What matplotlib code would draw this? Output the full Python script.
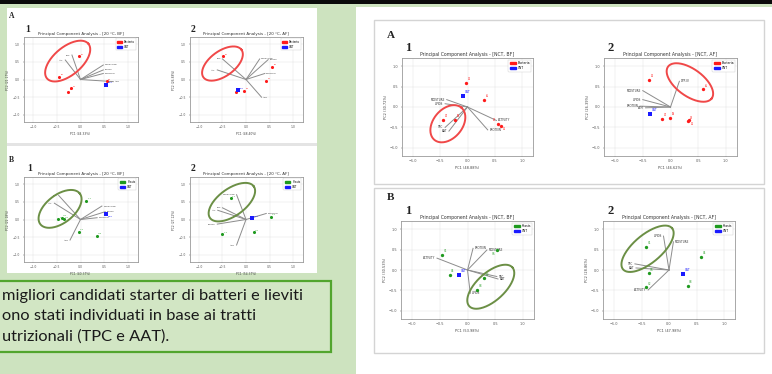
import matplotlib
matplotlib.use("Agg")
import numpy as np
import matplotlib.pyplot as plt
from matplotlib.patches import Rectangle, Patch

W, H = 772, 374

# ---------------- data ----------------
# Left column, 20 °C
l_a1_title = "Principal Component Analysis - [20 °C, BF]"
l_a1_xlab, l_a1_ylab = "PC1 (44.33%)", "PC2 (21.17%)"
l_a1_px = [-0.03, -0.45, -0.20, -0.26, 0.55]
l_a1_py = [0.66, 0.08, -0.25, -0.34, -0.04]
l_a1_pl = ["L2", "L5", "L7", "L9", "L3"]
l_a1_cnt = [0.54, -0.15]
l_a1_vx = [-0.18, -0.32, 0.48, 0.48, 0.48, 0.69]
l_a1_vy = [0.69, 0.55, 0.41, 0.27, 0.17, -0.06]
l_a1_vl = ["TPC", "AAT", "MOISTURE", "LIPIDS", "PROTEIN", "ASH"]
l_a1_ell = [-0.27, 0.52, 54, 28, 40]   # centre (data), major/minor (px), angle

l_a2_title = "Principal Component Analysis - [20 °C, AF]"
l_a2_xlab, l_a2_ylab = "PC1 (48.40%)", "PC2 (26.88%)"
l_a2_px = [-0.48, 0.55, 0.43, -0.21, -0.04]
l_a2_py = [0.66, 0.36, -0.03, -0.36, -0.32]
l_a2_pl = ["L2", "L5", "L7", "L9", "L3"]
l_a2_cnt = [-0.18, -0.30]
l_a2_vx = [-0.50, -0.61, 0.29, 0.47, 0.40, 0.33]
l_a2_vy = [0.58, 0.27, 0.58, 0.56, 0.17, -0.50]
l_a2_vl = ["TPC", "AAT", "MOISTURE", "LIPIDS", "PROTEIN", "ASH"]
l_a2_ell = [-0.50, 0.45, 47, 25, 36]

l_b1_title = "Principal Component Analysis - [20 °C, BF]"
l_b1_xlab, l_b1_ylab = "PC1 (40.37%)", "PC2 (22.18%)"
l_b1_px = [0.12, -0.47, -0.35, -0.03, 0.34, -0.40]
l_b1_py = [0.53, 0.01, 0.01, -0.34, -0.46, 0.05]
l_b1_pl = ["Y1", "Y4", "Y6", "Y2", "Y8", "Y5"]
l_b1_cnt = [0.54, 0.15]
l_b1_vx = [-0.46, -0.55, 0.45, 0.52, 0.35, -0.22]
l_b1_vy = [0.68, 0.46, 0.38, 0.22, 0.05, -0.58]
l_b1_vl = ["TPC", "AAT", "MOISTURE", "LIPIDS", "PROTEIN", "ASH"]
l_b1_ell = [-0.43, 0.30, 50, 28, 38]

l_b2_title = "Principal Component Analysis - [20 °C, AF]"
l_b2_xlab, l_b2_ylab = "PC1 (54.37%)", "PC2 (27.12%)"
l_b2_px = [-0.32, -0.50, 0.17, 0.53]
l_b2_py = [0.60, -0.42, -0.36, 0.08]
l_b2_pl = ["Y1", "Y4", "Y6", "Y2"]
l_b2_cnt = [0.13, 0.03]
l_b2_vx = [-0.20, -0.50, -0.60, -0.61, 0.43, -0.20]
l_b2_vy = [0.70, 0.33, 0.26, -0.13, 0.17, -0.72]
l_b2_vl = ["MOISTURE", "TPC", "AAT", "LIPIDS", "PROTEIN", "ASH"]
l_b2_ell = [-0.30, 0.49, 54, 27, 36]

# Right column, NCT
r_a1_title = "Principal Component Analysis - [NCT, BF]"
r_a1_xlab, r_a1_ylab = "PC1 (48.88%)", "PC2 (30.72%)"
r_a1_px = [-0.03, 0.30, -0.44, -0.23, 0.55, 0.62]
r_a1_py = [0.60, 0.17, -0.31, -0.31, -0.41, -0.46]
r_a1_pl = ["L2", "L5", "L7", "L9", "L3", "L1"]
r_a1_cnt = [-0.08, 0.27]
r_a1_vx = [-0.38, -0.41, -0.41, -0.34, 0.53, 0.37]
r_a1_vy = [0.18, 0.08, -0.50, -0.59, -0.33, -0.56]
r_a1_vl = ["MOISTURE", "LIPIDS", "TPC", "AAT", "ACTIVITY", "PROTEIN"]
r_a1_ell = [-0.36, -0.41, 42, 29, 50]

r_a2_title = "Principal Component Analysis - [NCT, AF]"
r_a2_xlab, r_a2_ylab = "PC1 (46.62%)", "PC2 (26.39%)"
r_a2_px = [-0.38, 0.59, -0.16, -0.01, 0.31, 0.34]
r_a2_py = [0.67, 0.43, -0.29, -0.27, -0.35, -0.33]
r_a2_pl = ["L2", "L5", "L7", "L9", "L3", "L1"]
r_a2_cnt = [-0.37, -0.17]
r_a2_vx = [0.16, -0.50, -0.50, -0.55, -0.45]
r_a2_vy = [0.63, 0.40, 0.18, 0.02, -0.02]
r_a2_vl = ["DPP-IV", "MOISTURE", "LIPIDS", "PROTEIN", "ASH"]
r_a2_ell = [0.35, 0.60, 54, 27, -36]

r_b1_title = "Principal Component Analysis - [NCT, BF]"
r_b1_xlab, r_b1_ylab = "PC1 (53.98%)", "PC2 (30.53%)"
r_b1_px = [-0.46, -0.32, 0.53, 0.30, 0.17]
r_b1_py = [0.37, -0.12, 0.49, -0.20, -0.49]
r_b1_pl = ["Y1", "Y4", "Y6", "Y2", "Y8"]
r_b1_cnt = [-0.15, -0.12]
r_b1_vx = [-0.55, 0.35, 0.10, 0.53, 0.55, 0.05]
r_b1_vy = [0.29, 0.49, 0.53, -0.16, -0.22, -0.57]
r_b1_vl = ["ACTIVITY", "MOISTURE", "PROTEIN", "TPC", "AAT", "LIPIDS"]
r_b1_ell = [0.42, -0.41, 58, 28, 42]

r_b2_title = "Principal Component Analysis - [NCT, AF]"
r_b2_xlab, r_b2_ylab = "PC1 (47.98%)", "PC2 (28.86%)"
r_b2_px = [-0.42, 0.58, -0.37, -0.42, 0.34]
r_b2_py = [0.57, 0.33, -0.08, -0.42, -0.39]
r_b2_pl = ["Y1", "Y4", "Y6", "Y2", "Y8"]
r_b2_cnt = [0.25, -0.10]
r_b2_vx = [-0.10, 0.08, -0.62, -0.60, -0.38]
r_b2_vy = [0.83, 0.69, 0.15, 0.05, -0.49]
r_b2_vl = ["LIPIDS", "MOISTURE", "TPC", "AAT", "ACTIVITY"]
r_b2_ell = [-0.39, 0.52, 64, 28, 40]

ticks = [-1.0, -0.5, 0.0, 0.5, 1.0]

text_lines = ["migliori candidati starter di batteri e lieviti",
              "ono stati individuati in base ai tratti",
              "utrizionali (TPC e AAT)."]

# ---------------- colours ----------------
BG_GREEN = "#cde3bf"
RED = "#ff1a1a"
BLUE = "#1a1aff"
GREEN = "#1f9a1f"
ELL_RED = "#f04848"
ELL_GREEN = "#6b8f45"

fig = plt.figure(figsize=(W / 100, H / 100), dpi=100)
fig.patch.set_facecolor(BG_GREEN)
renderer = fig.canvas.get_renderer()

bg = fig.add_axes([0, 0, 1, 1])
bg.set_xlim(0, W)
bg.set_ylim(H, 0)
bg.axis("off")
bg.set_zorder(0)

def rect(x0, y0, x1, y1, **kw):
    bg.add_patch(Rectangle((x0, y0), x1 - x0, y1 - y0, **kw))

rect(0, 0, W, 3.5, facecolor="#0a0a0a", edgecolor="none")
rect(7, 8, 317, 142.5, facecolor="white", edgecolor="none")
rect(7, 142.5, 317, 146, facecolor="#e4e4e4", edgecolor="none")
rect(7, 146, 317, 273, facecolor="white", edgecolor="none")
rect(356, 7, W, H, facecolor="white", edgecolor="none")
rect(373.5, 20, 764, 184, facecolor="none", edgecolor="#d4d4d4", linewidth=1.0)
rect(374, 188, 763.5, 353, facecolor="none", edgecolor="#d4d4d4", linewidth=1.0)
rect(-2, 281, 331, 352, facecolor="#d2e6c4", edgecolor="#52a52e", linewidth=1.6)

for i, line in enumerate(text_lines):
    bg.text(2, 296 + i * 20.5, line, fontsize=11.8, family=["Lato", "DejaVu Sans"],
            color="#1a1a1a", va="center", ha="left")

serif = ["Liberation Serif", "DejaVu Serif"]
def letter(x, y, s, size):
    bg.text(x, y, s, fontsize=size, family=serif, fontweight="bold", va="center",
            ha="left", color="#222222")

letter(9, 16, "A", 5.5)
letter(25, 29, "1", 7)
letter(191, 29, "2", 7)
letter(9, 160, "B", 5.5)
letter(27, 168, "1", 7)
letter(191, 168, "2", 7)
letter(387, 35, "A", 8)
letter(405, 48, "1", 9)
letter(607, 48, "2", 9)
letter(387, 197, "B", 8)
letter(405, 211, "1", 9)
letter(607, 211, "2", 9)


def overlaps(bb, placed):
    for o in placed:
        if bb.x0 < o.x1 and bb.x1 > o.x0 and bb.y0 < o.y1 and bb.y1 > o.y0:
            return True
    return False


def place_label(ax, x, y, lab, color, fs, placed):
    options = [(0.03, 0.04, "left", "bottom"), (0.03, -0.04, "left", "top"),
               (-0.03, 0.04, "right", "bottom"), (-0.03, -0.04, "right", "top")]
    t = None
    for ox, oy, ha, va in options:
        if t is not None:
            t.remove()
        t = ax.text(x + ox, y + oy, lab, fontsize=fs, color=color, zorder=4, ha=ha, va=va)
        bb = t.get_window_extent(renderer)
        if not overlaps(bb, placed):
            break
    placed.append(t.get_window_extent(renderer))


def add_pca(box, title, xlab, ylab, px, py, pl, cnt, vx, vy, vl, ell, kind, scale):
    x0, y0, x1, y1 = box
    ax = fig.add_axes([x0 / W, 1 - y1 / H, (x1 - x0) / W, (y1 - y0) / H])
    ax.set_zorder(2)
    ax.set_facecolor("white")
    ax.set_xlim(-1.2, 1.2)
    ax.set_ylim(-1.2, 1.2)
    ax.set_xticks(ticks)
    ax.set_yticks(ticks)
    fs = 2.2 * scale
    ax.tick_params(labelsize=fs, length=1, width=0.3, pad=1.5, colors="#555555")
    ax.grid(True, color="#e3e3e3", linewidth=0.35)
    ax.set_axisbelow(True)
    for s in ax.spines.values():
        s.set_color("#9a9a9a")
        s.set_linewidth(0.6)
    ax.set_title(title, fontsize=2.9 * scale, pad=1.2, color="#333333")
    ax.set_xlabel(xlab, fontsize=fs, labelpad=1.5, color="#444444")
    ax.set_ylabel(ylab, fontsize=fs, labelpad=1.5, color="#444444")

    placed = []
    lfs = 1.7 * scale
    for dx, dy, lab in zip(vx, vy, vl):
        ax.plot([0, dx], [0, dy], color="#8c8c8c", linewidth=0.7, zorder=2)
        t = ax.text(dx + (0.03 if dx >= 0 else -0.03), dy, lab, fontsize=lfs, color="#333333",
                    ha="left" if dx >= 0 else "right", va="center", zorder=3)
        placed.append(t.get_window_extent(renderer))

    pcol = RED if kind == "A" else GREEN
    grp = "Bacteria" if kind == "A" else "Yeasts"
    ax.scatter(px, py, s=5 * scale, color=pcol, zorder=4, linewidths=0)
    for x, y, lab in zip(px, py, pl):
        place_label(ax, x, y, lab, pcol, lfs, placed)
    ax.scatter([cnt[0]], [cnt[1]], s=5 * scale, color=BLUE, marker="s", zorder=4,
               linewidths=0)
    place_label(ax, cnt[0], cnt[1], "CNT", BLUE, lfs, placed)

    # ellipse: centre in data units, axes in output pixels, angle on screen
    ux = (x1 - x0) / 2.4
    uy = (y1 - y0) / 2.4
    tt = np.linspace(0, 2 * np.pi, 200)
    th = np.deg2rad(ell[4])
    a, b = ell[2] / 2, ell[3] / 2
    ex = a * np.cos(tt) * np.cos(th) - b * np.sin(tt) * np.sin(th)
    ey = a * np.cos(tt) * np.sin(th) + b * np.sin(tt) * np.cos(th)
    ecol = ELL_RED if kind == "A" else ELL_GREEN
    ax.plot(ell[0] + ex / ux, ell[1] + ey / uy, color=ecol, linewidth=1.4, zorder=5)

    handles = [Patch(facecolor=pcol, edgecolor=pcol), Patch(facecolor=BLUE, edgecolor=BLUE)]
    leg = ax.legend(handles, [grp, "CNT"], loc="upper right", fontsize=1.9 * scale,
                    handlelength=2.0, handleheight=0.9, borderpad=0.5, labelspacing=0.4,
                    handletextpad=0.6, frameon=True, framealpha=1, edgecolor="#cccccc")
    leg.get_frame().set_linewidth(0.3)
    return ax


add_pca((23.5, 37, 137.5, 122), l_a1_title, l_a1_xlab, l_a1_ylab, l_a1_px, l_a1_py, l_a1_pl,
        l_a1_cnt, l_a1_vx, l_a1_vy, l_a1_vl, l_a1_ell, "A", 1.0)
add_pca((189.5, 37, 302.5, 122), l_a2_title, l_a2_xlab, l_a2_ylab, l_a2_px, l_a2_py, l_a2_pl,
        l_a2_cnt, l_a2_vx, l_a2_vy, l_a2_vl, l_a2_ell, "A", 1.0)
add_pca((23.5, 177, 137.5, 262), l_b1_title, l_b1_xlab, l_b1_ylab, l_b1_px, l_b1_py, l_b1_pl,
        l_b1_cnt, l_b1_vx, l_b1_vy, l_b1_vl, l_b1_ell, "B", 1.0)
add_pca((189.5, 177, 302.5, 262), l_b2_title, l_b2_xlab, l_b2_ylab, l_b2_px, l_b2_py, l_b2_pl,
        l_b2_cnt, l_b2_vx, l_b2_vy, l_b2_vl, l_b2_ell, "B", 1.0)

add_pca((402, 58, 533, 156), r_a1_title, r_a1_xlab, r_a1_ylab, r_a1_px, r_a1_py, r_a1_pl,
        r_a1_cnt, r_a1_vx, r_a1_vy, r_a1_vl, r_a1_ell, "A", 1.15)
add_pca((604, 58, 737, 156), r_a2_title, r_a2_xlab, r_a2_ylab, r_a2_px, r_a2_py, r_a2_pl,
        r_a2_cnt, r_a2_vx, r_a2_vy, r_a2_vl, r_a2_ell, "A", 1.15)
add_pca((401, 221, 534, 319), r_b1_title, r_b1_xlab, r_b1_ylab, r_b1_px, r_b1_py, r_b1_pl,
        r_b1_cnt, r_b1_vx, r_b1_vy, r_b1_vl, r_b1_ell, "B", 1.15)
add_pca((603, 221, 735, 319), r_b2_title, r_b2_xlab, r_b2_ylab, r_b2_px, r_b2_py, r_b2_pl,
        r_b2_cnt, r_b2_vx, r_b2_vy, r_b2_vl, r_b2_ell, "B", 1.15)

fig.savefig("out.png", dpi=100, facecolor=fig.get_facecolor())
